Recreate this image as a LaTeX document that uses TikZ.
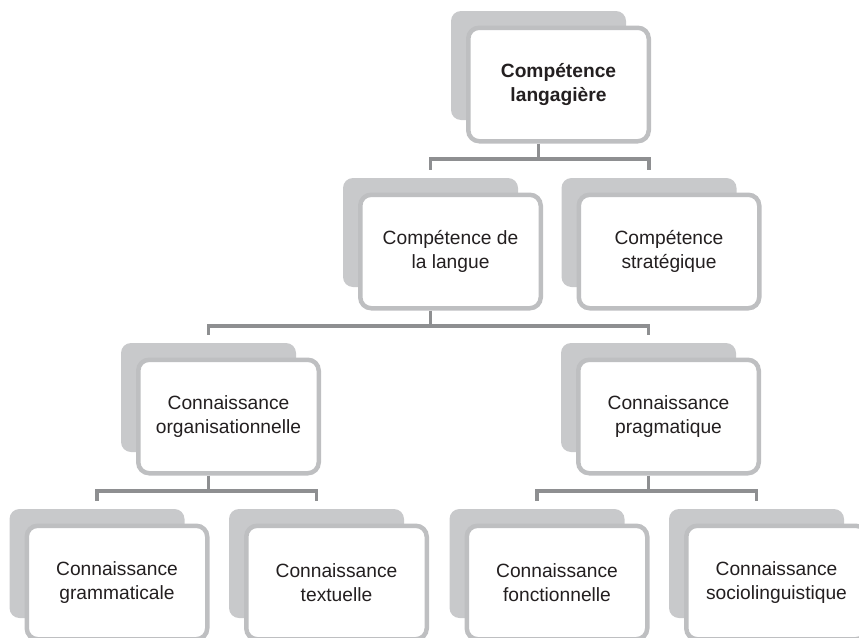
\documentclass[tikz,border=0pt]{standalone}
\usepackage{fontspec}
\setmainfont{Liberation Sans}
\usetikzlibrary{calc,backgrounds}
\definecolor{shadowc}{HTML}{C8C9CB}
\definecolor{borderc}{HTML}{BEBFC1}
\definecolor{linec}{HTML}{8E8F91}
\definecolor{textc}{HTML}{231F20}
\newcommand\boxnode[4]{%
  \node[shadowbox] (#1-sh) at (#2,#3) {};
  \node[frontbox] (#1) at (#2+20,#3+19) {#4};
}
\begin{document}
\begin{tikzpicture}[x=1pt,y=-1pt,
  shadowbox/.style={fill=shadowc, rounded corners=10pt, minimum width=175pt, minimum height=109pt, inner sep=0pt, draw=none},
  frontbox/.style={draw=borderc, line width=4.5pt, fill=white, rounded corners=11pt, minimum width=180.5pt, minimum height=113.5pt, inner sep=0pt, align=center, font=\fontsize{19.2}{24}\selectfont, text=textc},
  conn/.style={draw=linec, line width=3.2pt}]
\useasboundingbox (0,0) rectangle (859,637);

\boxnode{top}{538.5}{65.5}{\bfseries Compétence\\\bfseries langagière}
\boxnode{lang}{430.5}{232.5}{Compétence de\\la langue}
\boxnode{strat}{649}{232.5}{Compétence\\stratégique}
\boxnode{org}{208.5}{397.5}{Connaissance\\organisationnelle}
\boxnode{prag}{648.5}{397.5}{Connaissance\\pragmatique}
\boxnode{gram}{97}{563.5}{Connaissance\\grammaticale}
\boxnode{text}{316.5}{563.5}{Connaissance\\textuelle}
\boxnode{fonc}{537}{563.5}{Connaissance\\fonctionnelle}
\boxnode{socio}{756.5}{563.5}{Connaissance\\sociolinguistique}

\begin{pgfonlayer}{background}
\draw[conn] (top-sh.center |- top.south) -- ++(0,15.5) coordinate (b1);
\draw[conn] ($(lang-sh.north)+(0,-8)$) |- (b1) -| ($(strat-sh.north)+(0,-8)$);
\draw[conn] (lang-sh.center |- lang.south) -- ++(0,15.5) coordinate (b2);
\draw[conn] ($(org-sh.north)+(0,-8)$) |- (b2) -| ($(prag-sh.north)+(0,-8)$);
\draw[conn] (org-sh.center |- org.south) -- ++(0,15.5) coordinate (b3);
\draw[conn] ($(gram-sh.north)+(0,-8)$) |- (b3) -| ($(text-sh.north)+(0,-8)$);
\draw[conn] (prag-sh.center |- prag.south) -- ++(0,15.5) coordinate (b4);
\draw[conn] ($(fonc-sh.north)+(0,-8)$) |- (b4) -| ($(socio-sh.north)+(0,-8)$);
\end{pgfonlayer}
\end{tikzpicture}
\end{document}
